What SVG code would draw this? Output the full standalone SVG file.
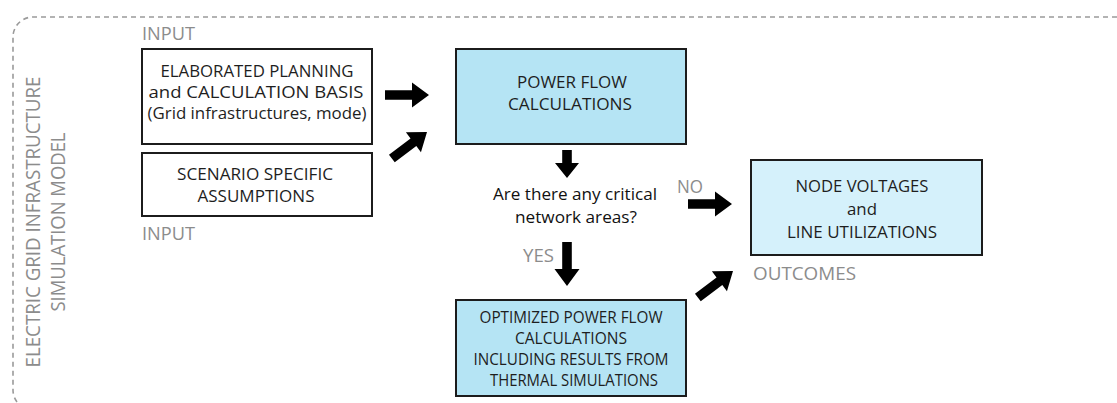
<svg xmlns="http://www.w3.org/2000/svg" width="1117" height="403" viewBox="0 0 1117 403">
  <defs>
    <style>
      .frame { fill: none; stroke: #9a9a9a; stroke-width: 1.6; stroke-dasharray: 5 4; }
      .box { stroke: #1c1c1c; stroke-width: 2; }
      .plain { fill: #ffffff; }
      .calc { fill: #b5e4f4; }
      .result { fill: #d5f1fb; }
      .t { font-family: "Open Sans", "Liberation Sans", sans-serif; font-size: 16.5px; fill: #1e1e1e; text-anchor: middle; }
      .q { font-family: "Open Sans", "Liberation Sans", sans-serif; font-size: 17px; fill: #111111; text-anchor: middle; }
      .lbl { font-family: "Open Sans", "Liberation Sans", sans-serif; font-size: 18px; fill: #8c8c8c; }
      .side { font-family: "Open Sans", "Liberation Sans", sans-serif; font-size: 20px; fill: #8c8c8c; text-anchor: middle; }
      .arrow { fill: #000000; }
    </style>
    <!-- block arrows, tip at the origin, pointing along +x -->
    <path id="arrowLong" d="M-44,-4.8 H-17 V-12.5 L0,0 L-17,12.5 V4.8 H-44 Z"/>
    <path id="arrowShort" d="M-28,-4.8 H-15 V-12 L0,0 L-15,12 V4.8 H-28 Z"/>
  </defs>

  <!-- model boundary -->
  <path class="frame" d="M1117,17 H33 A20,20 0 0 0 13,37 V390 A20,20 0 0 0 33,410"/>
  <g id="model-label">
    <text class="side" transform="translate(40,222) rotate(-90)" textLength="291" lengthAdjust="spacingAndGlyphs">ELECTRIC GRID INFRASTRUCTURE</text>
    <text class="side" transform="translate(65,222) rotate(-90)" textLength="179" lengthAdjust="spacingAndGlyphs">SIMULATION MODEL</text>
  </g>

  <g id="planning-basis">
    <text class="lbl" x="142" y="40" textLength="53" lengthAdjust="spacingAndGlyphs">INPUT</text>
    <rect class="box plain" x="142" y="49" width="230" height="95"/>
    <text class="t" x="257" y="77" textLength="193" lengthAdjust="spacingAndGlyphs">ELABORATED PLANNING</text>
    <text class="t" x="256" y="98" textLength="215" lengthAdjust="spacingAndGlyphs">and CALCULATION BASIS</text>
    <text class="t" x="257" y="119" textLength="219" lengthAdjust="spacingAndGlyphs">(Grid infrastructures, mode)</text>
  </g>

  <g id="scenario-assumptions">
    <rect class="box plain" x="142" y="153" width="230" height="63"/>
    <text class="t" x="255" y="180" textLength="156" lengthAdjust="spacingAndGlyphs">SCENARIO SPECIFIC</text>
    <text class="t" x="256" y="202" textLength="117" lengthAdjust="spacingAndGlyphs">ASSUMPTIONS</text>
    <text class="lbl" x="142" y="240" textLength="53" lengthAdjust="spacingAndGlyphs">INPUT</text>
  </g>

  <g id="power-flow">
    <rect class="box calc" x="456" y="49" width="230" height="95"/>
    <text class="t" x="572" y="88" textLength="110" lengthAdjust="spacingAndGlyphs">POWER FLOW</text>
    <text class="t" x="570" y="110" textLength="124" lengthAdjust="spacingAndGlyphs">CALCULATIONS</text>
  </g>

  <g id="critical-check">
    <text class="q" x="575" y="200" textLength="164" lengthAdjust="spacingAndGlyphs">Are there any critical</text>
    <text class="q" x="576" y="223" textLength="122" lengthAdjust="spacingAndGlyphs">network areas?</text>
  </g>

  <g id="optimized-power-flow">
    <rect class="box calc" x="456" y="300" width="230" height="96"/>
    <text class="t" x="571" y="323" textLength="183" lengthAdjust="spacingAndGlyphs">OPTIMIZED POWER FLOW</text>
    <text class="t" x="571" y="344" textLength="112" lengthAdjust="spacingAndGlyphs">CALCULATIONS</text>
    <text class="t" x="571" y="365" textLength="195" lengthAdjust="spacingAndGlyphs">INCLUDING RESULTS FROM</text>
    <text class="t" x="574" y="386" textLength="168" lengthAdjust="spacingAndGlyphs">THERMAL SIMULATIONS</text>
  </g>

  <g id="outcomes">
    <rect class="box result" x="751" y="160" width="231" height="95"/>
    <text class="t" x="862" y="192" textLength="133" lengthAdjust="spacingAndGlyphs">NODE VOLTAGES</text>
    <text class="t" x="862" y="215" textLength="30" lengthAdjust="spacingAndGlyphs">and</text>
    <text class="t" x="862" y="238" textLength="150" lengthAdjust="spacingAndGlyphs">LINE UTILIZATIONS</text>
    <text class="lbl" x="753" y="280" textLength="103" lengthAdjust="spacingAndGlyphs">OUTCOMES</text>
  </g>

  <g id="connectors">
    <use class="arrow" href="#arrowLong" transform="translate(429,95)"/>
    <use class="arrow" href="#arrowLong" transform="translate(427,132) rotate(-37)"/>
    <use class="arrow" href="#arrowShort" transform="translate(567,178) rotate(90)"/>
    <use class="arrow" href="#arrowLong" transform="translate(732,204)"/>
    <use class="arrow" href="#arrowLong" transform="translate(567,286) rotate(90)"/>
    <use class="arrow" href="#arrowLong" transform="translate(733,271) rotate(-37)"/>
    <text class="lbl" x="677" y="193" textLength="26" lengthAdjust="spacingAndGlyphs">NO</text>
    <text class="lbl" x="523" y="262" textLength="31" lengthAdjust="spacingAndGlyphs">YES</text>
  </g>
</svg>
